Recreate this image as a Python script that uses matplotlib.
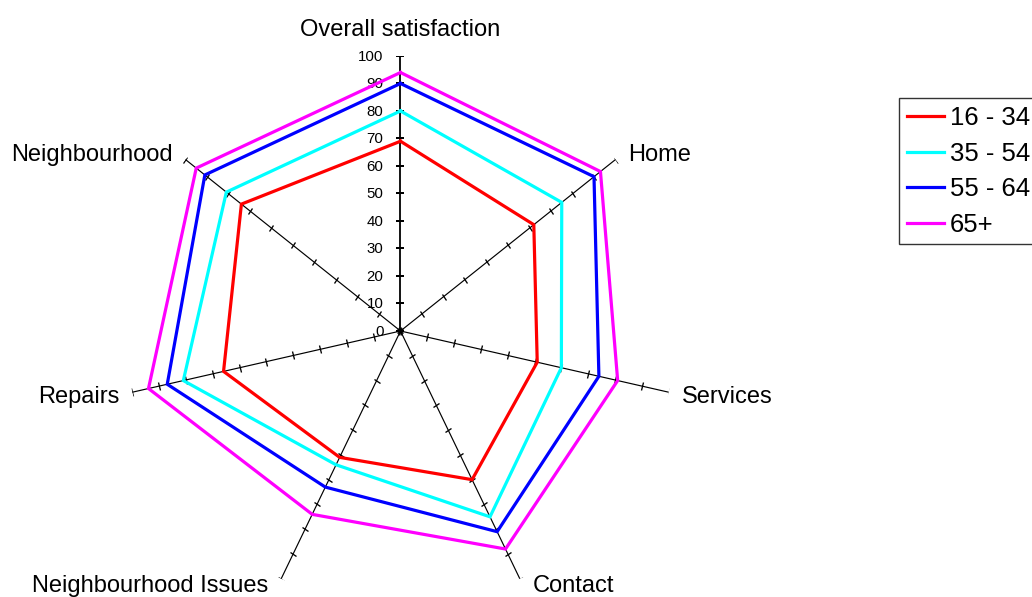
import numpy as np
import matplotlib
matplotlib.use("Agg")
import matplotlib.pyplot as plt
from matplotlib.markers import MarkerStyle
from matplotlib.transforms import Affine2D

plt.rcParams['font.family'] = ['Liberation Sans', 'DejaVu Sans']

categories = ["Overall satisfaction", "Home", "Services", "Contact",
              "Neighbourhood Issues", "Repairs", "Neighbourhood"]
age_groups = ["16 - 34", "35 - 54", "55 - 64", "65+"]
scores_16_34 = [69, 62, 51, 60, 51, 66, 74]
scores_35_54 = [80, 75, 60, 75, 54, 81, 81]
scores_55_64 = [90, 90, 74, 81, 63, 87, 91]
scores_65_plus = [94, 93, 81, 88, 74, 94, 95]
series = [scores_16_34, scores_35_54, scores_55_64, scores_65_plus]
colors = ["#FF0000", "#00FFFF", "#0000FF", "#FF00FF"]
radial_ticks = list(range(0, 101, 10))

W, H = 1032, 597
fig = plt.figure(figsize=(W / 100, H / 100), dpi=100)
cx, cy, R = 400.5, 331.0, 275.0
ax = fig.add_axes([(cx - R) / W, (H - cy - R) / H, 2 * R / W, 2 * R / H],
                  projection="polar")
ax.set_theta_offset(np.pi / 2)
ax.set_theta_direction(-1)
ax.set_ylim(0, 100)
ax.grid(False)
ax.set_xticks([])
ax.set_yticks([])
ax.spines["polar"].set_visible(False)
ax.patch.set_visible(False)

n = len(categories)
thetas = np.arange(n) * 2 * np.pi / n

# spokes with cross ticks every 10 units
for i, th in enumerate(thetas):
    lw = 1.3 if i == 0 else 0.85
    ax.plot([th, th], [0, 100], color="black", lw=lw, zorder=1)
    screen_deg = 90 - np.degrees(th)
    tick = MarkerStyle("_", transform=Affine2D().rotate_deg(screen_deg + 90))
    ax.plot([th] * len(radial_ticks), radial_ticks, linestyle="none",
            marker=tick, markersize=5.4, markeredgewidth=lw + 0.1,
            color="black", zorder=1)

# radial value labels on the first spoke
for v in radial_ticks:
    ax.annotate(str(v), xy=(0, v), xytext=(-17, -1), textcoords="offset pixels",
                ha="right", va="center", fontsize=10.8, color="black")

# category labels outside the spoke ends
for th, name in zip(thetas, categories):
    a = np.radians(90 - np.degrees(th))
    c, s = np.cos(a), np.sin(a)
    if abs(c) < 0.1:
        ha, dx, dy = "center", 0, 26
    else:
        ha = "left" if c > 0 else "right"
        dx = 13 if c > 0 else -13
        dy = 5 if s > 0 else (-5 if abs(s) < 0.5 else -7)
    ax.annotate(name, xy=(th, 100), xytext=(dx, dy), textcoords="offset pixels",
                ha=ha, va="center", fontsize=17, color="black",
                annotation_clip=False)

# one closed polygon per age group
th_closed = np.append(thetas, thetas[0])
for label, vals, col in zip(age_groups, series, colors):
    ax.plot(th_closed, vals + vals[:1], color=col, lw=2.3, label=label,
            zorder=3, solid_joinstyle="miter")

leg = fig.legend(loc="upper left", bbox_to_anchor=(899.3 / W, 1 - 98.3 / H),
                 borderaxespad=0, fontsize=18.5, frameon=True, fancybox=False,
                 edgecolor="black", handlelength=1.45, handletextpad=0.23,
                 borderpad=0.3, labelspacing=0.45)
leg.get_frame().set_linewidth(1.0)

fig.savefig("out.png", dpi=100)
